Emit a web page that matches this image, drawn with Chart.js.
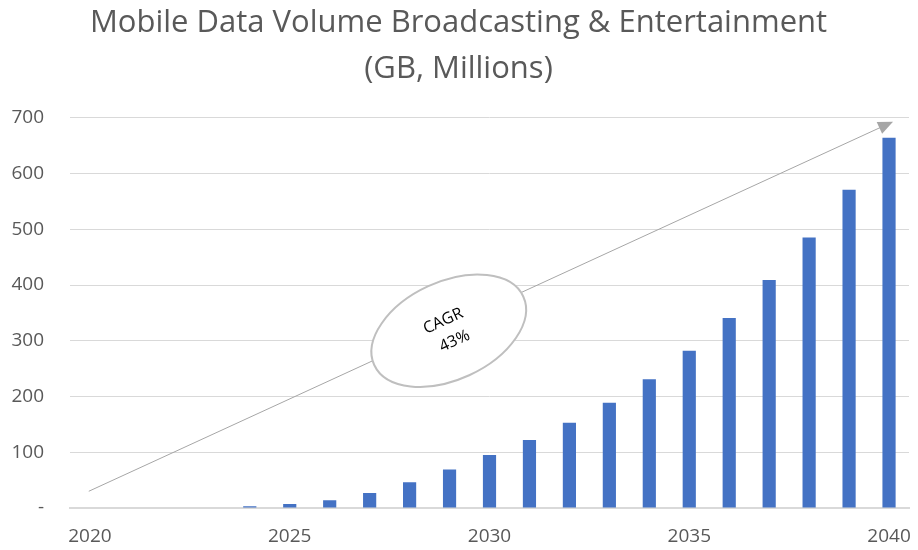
<!DOCTYPE html>
<html>
<head>
<meta charset="utf-8">
<title>Mobile Data Volume Broadcasting & Entertainment</title>
<script src="https://cdn.jsdelivr.net/npm/chart.js@4/dist/chart.umd.min.js"></script>
<style>
    html, body {
        margin: 0;
        padding: 0;
        background: #ffffff;
    }

    #wrap {
        width: 918px;
        height: 550px;
        position: relative;
    }
</style>
</head>
<body>
<div id="wrap">
    <canvas id="chart"></canvas>
</div>

<script>
// yearly data volume, GB millions
const years = [
    "2020", "2021", "2022", "2023", "2024", "2025", "2026",
    "2027", "2028", "2029", "2030", "2031", "2032", "2033",
    "2034", "2035", "2036", "2037", "2038", "2039", "2040"
];

const volume = [
    0, 0, 0, 1, 3, 7, 14,
    27, 46, 69, 95, 122, 153, 189,
    231, 282, 341, 409, 485, 571, 664
];

const yTicks = [0, 100, 200, 300, 400, 500, 600, 700];

const titleLines = [
    "Mobile Data Volume Broadcasting & Entertainment",
    "(GB, Millions)"
];

// growth arrow, in (category index, value) units
const arrowFrom = [-0.03, 30];
const arrowTo = [20.1, 693];

const cagrLabel = ["CAGR", "43%"];
const cagrAt = [8.98, 318];

const growthArrow = {
    id: "growthArrow",

    afterDatasetsDraw(chart) {
        const ctx = chart.ctx;
        const x = chart.scales.x;
        const y = chart.scales.y;

        const x1 = x.getPixelForValue(arrowFrom[0]);
        const y1 = y.getPixelForValue(arrowFrom[1]);
        const x2 = x.getPixelForValue(arrowTo[0]);
        const y2 = y.getPixelForValue(arrowTo[1]);
        const angle = Math.atan2(y2 - y1, x2 - x1);

        ctx.save();

        // shaft
        ctx.strokeStyle = "#a6a6a6";
        ctx.lineWidth = 1;
        ctx.beginPath();
        ctx.moveTo(x1, y1);
        ctx.lineTo(x2 - 12 * Math.cos(angle), y2 - 12 * Math.sin(angle));
        ctx.stroke();

        // head
        ctx.translate(x2, y2);
        ctx.rotate(angle);
        ctx.fillStyle = "#a6a6a6";
        ctx.beginPath();
        ctx.moveTo(0, 0);
        ctx.lineTo(-15, -6.5);
        ctx.lineTo(-15, 6.5);
        ctx.closePath();
        ctx.fill();
        ctx.restore();

        // ellipse with the growth rate
        const cx = x.getPixelForValue(cagrAt[0]);
        const cy = y.getPixelForValue(cagrAt[1]);

        ctx.save();
        ctx.translate(cx, cy);
        ctx.rotate(angle);

        ctx.beginPath();
        ctx.ellipse(0, 0, 82, 49, 0, 0, Math.PI * 2);
        ctx.fillStyle = "#ffffff";
        ctx.fill();
        ctx.lineWidth = 2;
        ctx.strokeStyle = "#bfbfbf";
        ctx.stroke();

        ctx.fillStyle = "#000000";
        ctx.font = "16px 'Open Sans'";
        ctx.textAlign = "center";
        ctx.textBaseline = "middle";
        ctx.fillText(cagrLabel[0], -1, -11);
        ctx.fillText(cagrLabel[1], 1, 12);
        ctx.restore();
    }
};

new Chart(document.getElementById("chart"), {
    type: "bar",

    data: {
        labels: years,

        datasets: [
            {
                label: "Data volume",
                data: volume,
                backgroundColor: "#4472c4",
                borderWidth: 0,
                barPercentage: 1,
                categoryPercentage: 0.33
            }
        ]
    },

    options: {
        responsive: true,
        maintainAspectRatio: false,
        animation: false,

        layout: {
            padding: {
                left: 8,
                right: 9,
                top: 0,
                bottom: 0
            }
        },

        plugins: {
            legend: {
                display: false
            },

            tooltip: {
                enabled: false
            },

            title: {
                display: true,
                text: titleLines,
                color: "#595959",
                font: {
                    family: "'Open Sans'",
                    size: 31,
                    weight: "normal",
                    lineHeight: 1.48
                },
                padding: {
                    top: 0,
                    bottom: 26
                }
            }
        },

        scales: {
            x: {
                afterFit(axis) {
                    axis.height = 42;
                    // let the end labels overhang the plot edges
                    axis.paddingLeft = 0;
                    axis.paddingRight = 0;
                },
                grid: {
                    display: false,
                    drawTicks: false
                },
                border: {
                    display: true,
                    color: "#d9d9d9",
                    width: 2
                },
                ticks: {
                    color: "#595959",
                    font: {
                        family: "'Open Sans'",
                        size: 19
                    },
                    padding: 17,
                    maxRotation: 0,
                    autoSkip: false,
                    callback(value, index) {
                        return index % 5 === 0 ? years[index] : "";
                    }
                }
            },

            y: {
                min: 0,
                max: 700,
                afterBuildTicks(axis) {
                    axis.ticks = yTicks.map(v => ({ value: v }));
                },
                afterFit(axis) {
                    axis.width = 62;
                },
                grid: {
                    color: "#d9d9d9",
                    lineWidth: 1,
                    drawTicks: false
                },
                border: {
                    display: false
                },
                ticks: {
                    color: "#595959",
                    font: {
                        family: "'Open Sans'",
                        size: 19
                    },
                    padding: 26,
                    callback(value) {
                        return value === 0 ? "-" : value;
                    }
                }
            }
        }
    },

    plugins: [growthArrow]
});
</script>
</body>
</html>
